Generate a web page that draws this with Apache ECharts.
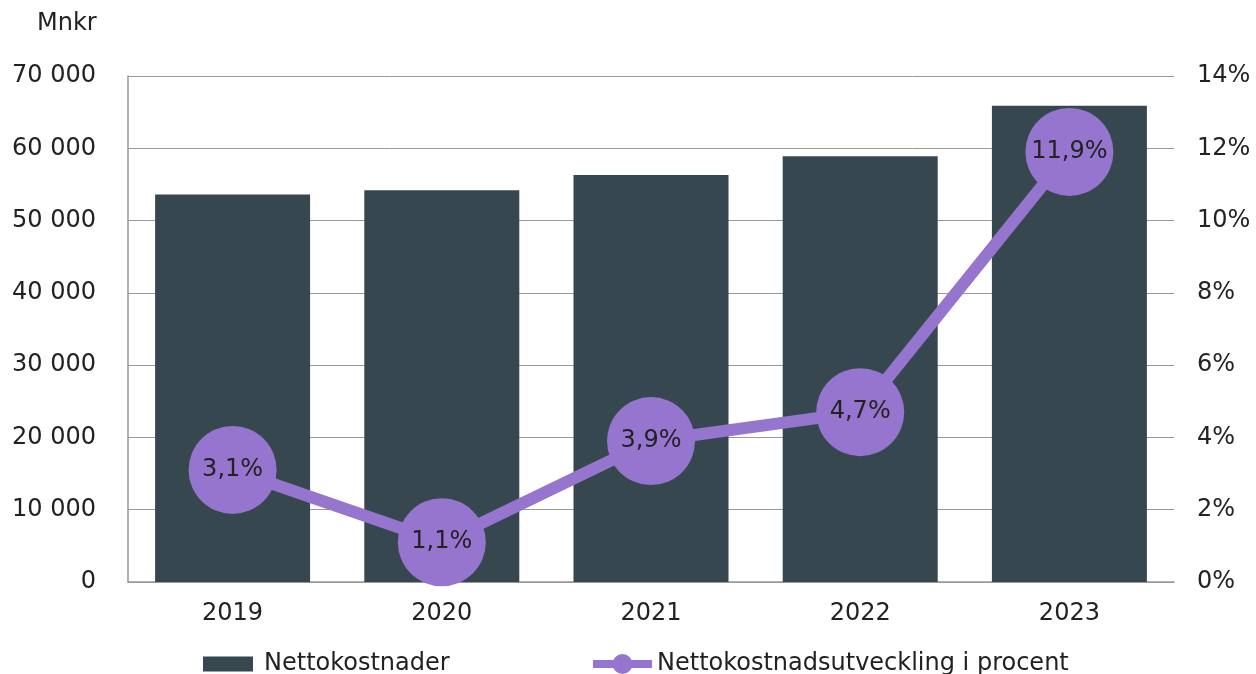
<!DOCTYPE html>
<html>
<head>
<meta charset="utf-8">
<script src="https://cdn.jsdelivr.net/npm/echarts@6/dist/echarts.min.js"></script>
<style>
  html, body { margin: 0; padding: 0; background: #fff; }
  #chart { width: 1256px; height: 674px; }
</style>
</head>
<body>
<div id="chart"></div>
<script>
const years = ["2019", "2020", "2021", "2022", "2023"];
const nettokostnader = [53600, 54200, 56300, 58900, 65900];
const utveckling = [3.1, 1.1, 3.9, 4.7, 11.9];

const font = "DejaVu Sans, Verdana, sans-serif";
const textColor = "#222";
const barColor = "#37474F";
const lineColor = "#9575CD";

function thousands(v) {
  return String(v).replace(/\B(?=(\d{3})+(?!\d))/g, " ");
}

let chart = echarts.init(document.getElementById("chart"));

// legend icon for the line series: thick line with a dot in the middle (both subpaths clockwise)
const lineIcon = "path://M0,6 L59,6 L59,14 L0,14 Z M29.5,0 A10,10 0 1,1 29.5,20 A10,10 0 1,1 29.5,0 Z";

let option = {
  animation: false,
  textStyle: { fontFamily: font },
  grid: { left: 128, right: 82, top: 76, bottom: 92 },
  graphic: [
    {
      type: "text",
      left: 37,
      top: 12,
      style: { text: "Mnkr", font: "24px " + font, fill: textColor }
    }
  ],
  legend: [
    {
      bottom: -7,
      left: 198,
      itemWidth: 50,
      itemHeight: 15,
      textStyle: { fontSize: 24, color: textColor, fontFamily: font, padding: [0, 0, 0, 6] },
      data: [{ name: "Nettokostnader", icon: "rect" }]
    },
    {
      bottom: -7,
      left: 588,
      itemWidth: 59,
      itemHeight: 20,
      textStyle: { fontSize: 24, color: textColor, fontFamily: font },
      data: [
        {
          name: "Nettokostnadsutveckling i procent",
          icon: lineIcon,
          itemStyle: { color: lineColor, borderWidth: 0 }
        }
      ]
    }
  ],
  xAxis: {
    type: "category",
    data: years,
    axisLine: { lineStyle: { color: "#999", width: 1.5 } },
    axisTick: { inside: true, length: 7, lineStyle: { color: "#999" } },
    axisLabel: { fontSize: 24, color: textColor, margin: 20, fontFamily: font }
  },
  yAxis: [
    {
      type: "value",
      min: 0,
      max: 70000,
      interval: 10000,
      axisLine: { show: true, lineStyle: { color: "#999", width: 1.5 } },
      axisTick: { show: false },
      splitLine: { lineStyle: { color: "#999", width: 1 } },
      axisLabel: {
        fontSize: 24,
        color: textColor,
        margin: 32,
        fontFamily: font,
        formatter: v => thousands(v)
      }
    },
    {
      type: "value",
      min: 0,
      max: 14,
      interval: 2,
      axisLine: { show: false },
      axisTick: { show: false },
      splitLine: { show: false },
      axisLabel: {
        fontSize: 24,
        color: textColor,
        margin: 23,
        fontFamily: font,
        formatter: v => v + "%"
      }
    }
  ],
  series: [
    {
      name: "Nettokostnader",
      type: "bar",
      data: nettokostnader,
      barWidth: 155,
      itemStyle: { color: barColor }
    },
    {
      name: "Nettokostnadsutveckling i procent",
      type: "line",
      yAxisIndex: 1,
      data: utveckling,
      symbol: "circle",
      symbolSize: 88,
      lineStyle: { color: lineColor, width: 12 },
      itemStyle: { color: lineColor },
      label: {
        show: true,
        position: "inside",
        fontSize: 24,
        color: "#222",
        fontFamily: font,
        formatter: p => String(p.value).replace(".", ",") + "%"
      }
    }
  ]
};

chart.setOption(option);
</script>
</body>
</html>
